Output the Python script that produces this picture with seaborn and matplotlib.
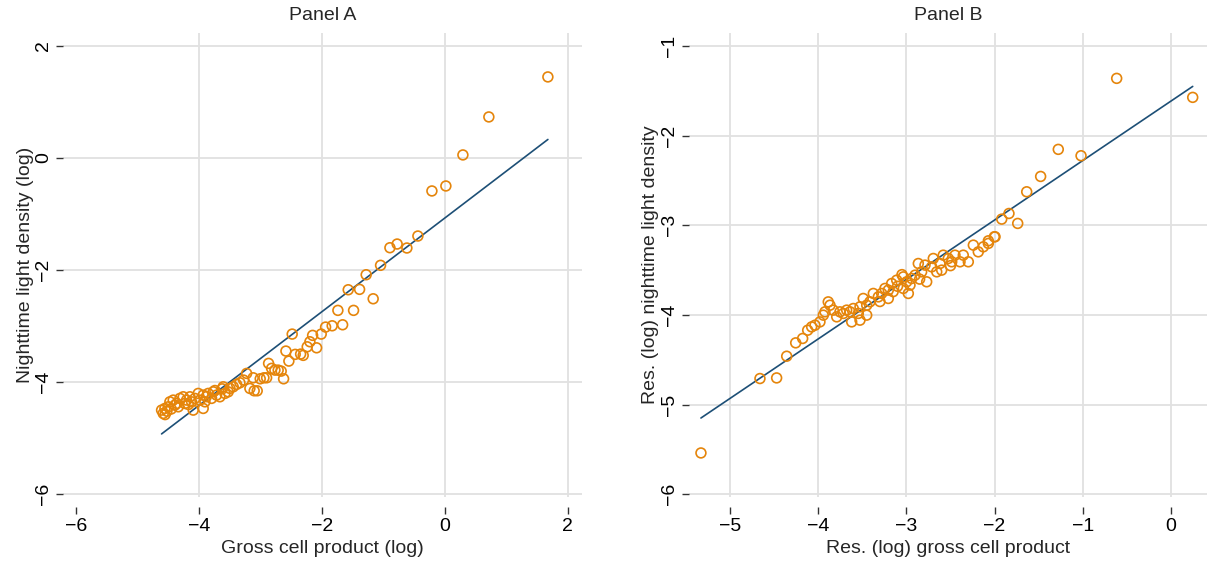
import matplotlib
matplotlib.use("Agg")
import matplotlib.pyplot as plt
import seaborn as sns
import numpy as np
import pandas as pd

# Panel A: binned gross cell product vs nighttime light density (logs)
gcp_a = [1.675, 0.715, 0.293, 0.016, -0.211, -0.439, -0.618, -0.776, -0.894, -1.046,
         -1.166, -1.280, -1.387, -1.572, -1.485, -1.740, -1.663, -1.833, -1.940, -2.011,
         -2.151, -2.195, -2.239, -2.086, -2.483, -2.585, -2.434, -2.346, -2.304, -2.537,
         -2.867, -2.818, -2.764, -2.711, -2.662, -2.623, -2.899, -2.943, -3.003, -3.117,
         -3.224, -3.273, -3.333, -3.387, -3.171, -3.101, -3.052,
         -4.580, -4.607, -4.553, -4.499, -4.472, -4.418, -4.390, -4.336, -4.309, -4.255,
         -4.228, -4.200, -4.146, -4.119, -4.065, -4.011, -3.984, -3.930, -3.902, -3.849,
         -3.794, -3.767, -3.713, -3.659, -3.605, -3.577, -3.524, -3.496, -3.442, -4.092,
         -3.930, -4.550, -4.520, -4.450, -4.360, -4.170, -3.880, -3.740, -3.620]
ntl_a = [1.446, 0.732, 0.054, -0.500, -0.589, -1.393, -1.607, -1.536, -1.602, -1.916,
         -2.513, -2.084, -2.345, -2.352, -2.720, -2.720, -2.977, -2.995, -3.018, -3.143,
         -3.166, -3.280, -3.370, -3.388, -3.143, -3.446, -3.505, -3.500, -3.523, -3.625,
         -3.666, -3.755, -3.786, -3.786, -3.804, -3.941, -3.923, -3.923, -3.941, -3.923,
         -3.845, -3.964, -4.012, -4.041, -4.113, -4.155, -4.155,
         -4.559, -4.500, -4.470, -4.441, -4.352, -4.321, -4.411, -4.441, -4.291, -4.262,
         -4.381, -4.321, -4.262, -4.352, -4.291, -4.202, -4.321, -4.232, -4.352, -4.202,
         -4.291, -4.173, -4.232, -4.262, -4.084, -4.202, -4.173, -4.113, -4.084, -4.500,
         -4.470, -4.580, -4.520, -4.480, -4.380, -4.400, -4.260, -4.150, -4.120]
fit_a = (-1.071, 0.8365)  # intercept, slope

# Panel B: residualised values
gcp_b = [0.246, -0.616, -1.020, -1.278, -1.478, -1.636, -1.738, -1.837, -1.919, -1.995,
         -2.071, -2.128, -2.185, -2.241, -2.298, -2.355, -2.392, -2.449, -2.486, -2.525,
         -2.582, -2.619, -2.656, -2.695, -2.713, -2.770, -2.789, -2.827, -2.865, -2.902,
         -2.940, -2.959, -2.997, -3.035, -2.978, -3.035, -3.110, -3.167, -3.205, -3.243,
         -3.280, -3.205, -3.318, -3.375, -3.413, -3.450, -3.489, -3.526, -3.450, -3.545,
         -3.602, -3.639, -3.620, -3.677, -3.715, -3.753, -3.790, -3.829, -3.866, -3.886,
         -3.923, -3.942, -3.980, -4.036, -4.074, -4.119, -4.176, -4.255, -4.357, -4.471,
         -4.660, -5.329, -3.526, -3.050, -3.100, -3.300, -3.150, -2.850, -2.600, -2.500,
         -2.071, -2.003]
ntl_b = [-1.573, -1.361, -2.224, -2.153, -2.455, -2.626, -2.979, -2.868, -2.931, -3.128,
         -3.202, -3.240, -3.296, -3.221, -3.407, -3.333, -3.407, -3.333, -3.407, -3.370,
         -3.333, -3.426, -3.519, -3.370, -3.463, -3.630, -3.444, -3.519, -3.426, -3.556,
         -3.593, -3.667, -3.630, -3.575, -3.760, -3.704, -3.612, -3.649, -3.723, -3.704,
         -3.760, -3.816, -3.798, -3.760, -3.853, -3.891, -3.816, -3.909, -4.002, -3.983,
         -3.928, -3.965, -4.077, -3.946, -3.983, -3.965, -4.021, -3.946, -3.891, -3.854,
         -3.965, -4.002, -4.077, -4.114, -4.133, -4.170, -4.262, -4.311, -4.460, -4.702,
         -4.709, -5.539, -4.058, -3.550, -3.680, -3.850, -3.740, -3.600, -3.500, -3.450,
         -3.173, -3.128]
fit_b = (-1.614, 0.6634)

ORANGE = "#E5850B"
NAVY = "#1D4F76"
GRID = "#E1E1E1"
FS = 14

sns.set_theme(style="white")
plt.rcParams["font.family"] = ["Liberation Sans", "DejaVu Sans"]

fig = plt.figure(figsize=(12.07, 5.65), dpi=100)
ax_a = fig.add_axes([0.0522, 0.1204, 0.430, 0.8212])
ax_b = fig.add_axes([0.5708, 0.1204, 0.4292, 0.8212])


def panel(ax, x, y, fit, title, xlabel, ylabel, xticks, yticks, xlim, ylim, xgrid):
    df = pd.DataFrame({"x": x, "y": y})
    for v in xgrid:
        ax.axvline(v, color=GRID, lw=1.3, zorder=0)
    for v in yticks:
        ax.axhline(v, color=GRID, lw=1.3, zorder=0)
    xs = np.array([df["x"].min(), df["x"].max()])
    line = pd.DataFrame({"x": xs, "y": fit[0] + fit[1] * xs})
    sns.lineplot(data=line, x="x", y="y", color=NAVY, lw=1.2, ax=ax, zorder=2)
    sns.scatterplot(data=df, x="x", y="y", ax=ax, s=50, facecolor="none",
                    edgecolor=ORANGE, linewidth=1.2, zorder=3)
    ax.set_xlim(*xlim)
    ax.set_ylim(*ylim)
    ax.set_xticks(xticks)
    ax.set_yticks(yticks)
    ax.set_xticklabels([f"{t:g}".replace("-", "\u2212") for t in xticks])
    ax.set_yticklabels([f"{t:g}".replace("-", "\u2212") for t in yticks],
                       rotation=90, va="center")
    for s in ax.spines.values():
        s.set_visible(False)
    ax.spines["bottom"].set_position(("outward", 7))
    ax.tick_params(axis="both", which="major", length=5, width=1, color="#333333",
                   labelsize=FS, labelcolor="black", direction="out",
                   bottom=True, left=True)
    ax.tick_params(axis="x", pad=3)
    ax.tick_params(axis="y", pad=3)
    ax.set_title(title, fontsize=FS, pad=9)
    ax.set_xlabel(xlabel, fontsize=FS, labelpad=4)
    ax.set_ylabel(ylabel, fontsize=FS, labelpad=1)


panel(ax_a, gcp_a, ntl_a, fit_a, "Panel A", "Gross cell product (log)",
      "Nighttime light density (log)", [-6, -4, -2, 0, 2], [-6, -4, -2, 0, 2],
      (-6.21, 2.23), (-6.05, 2.23), [-4, -2, 0, 2])
panel(ax_b, gcp_b, ntl_b, fit_b, "Panel B", "Res. (log) gross cell product",
      "Res. (log) nighttime light density", [-5, -4, -3, -2, -1, 0],
      [-6, -5, -4, -3, -2, -1], (-5.465, 0.408), (-6.03, -0.855),
      [-5, -4, -3, -2, -1, 0])

fig.savefig("out.png", dpi=100)
